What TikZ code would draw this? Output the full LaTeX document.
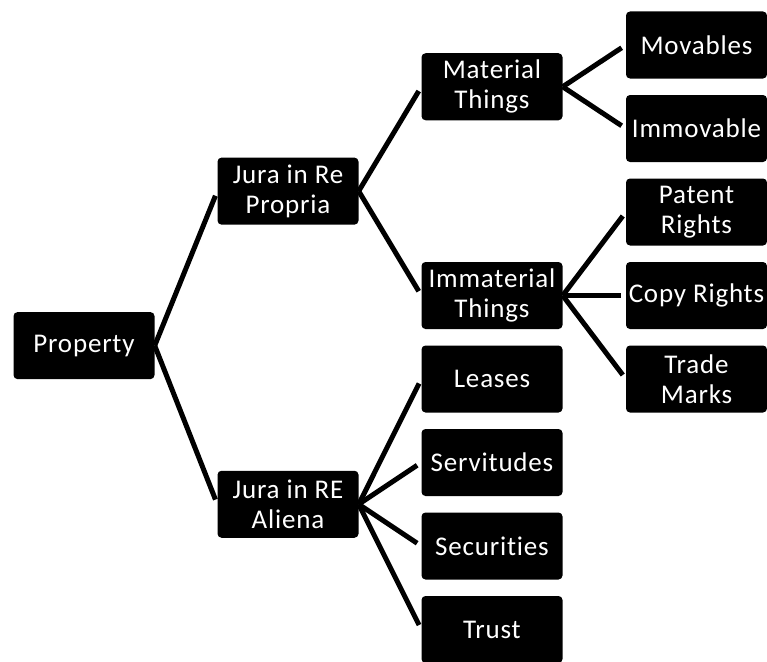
\documentclass[tikz,border=0pt]{standalone}
\usepackage{fontspec}
\newfontfamily\boxfont[LetterSpace=3,Ligatures=NoCommon]{Carlito}

\tikzset{
  item/.style={fill=black, text=white, rounded corners=4pt,
    minimum width=141pt, minimum height=67pt, inner sep=2pt, align=center,
    font={\boxfont\fontsize{27pt}{30pt}\selectfont}},
  link/.style={line width=5pt, shorten >=5pt}
}

\begin{document}
\begin{tikzpicture}

  \newcommand\X{204pt}
  \newcommand\Y{83.5pt}

  \useasboundingbox (0,0) rectangle (767pt,-661pt);

  % root and first level
  \node[item] (prop)    at (84pt+0*\X, -45pt-3.6*\Y)  {Property};
  \node[item] (propria) at (84pt+1*\X, -45pt-1.75*\Y) {Jura in Re\\Propria};
  \node[item] (aliena)  at (84pt+1*\X, -45pt-5.5*\Y)  {Jura in RE\\Aliena};

  % second level
  \node[item] (mat)    at (84pt+2*\X, -45pt-0.5*\Y) {Material\\Things};
  \node[item] (immat)  at (84pt+2*\X, -45pt-3*\Y)   {Immaterial\\Things};
  \node[item] (leases) at (84pt+2*\X, -45pt-4*\Y)   {Leases};
  \node[item] (serv)   at (84pt+2*\X, -45pt-5*\Y)   {Servitudes};
  \node[item] (secur)  at (84pt+2*\X, -45pt-6*\Y)   {Securities};
  \node[item] (trust)  at (84pt+2*\X, -45pt-7*\Y)   {Trust};

  % third level
  \node[item] (mov)    at (84.5pt+3*\X, -45pt-0*\Y) {Movables};
  \node[item] (immov)  at (84.5pt+3*\X, -45pt-1*\Y) {Immovable};
  \node[item] (patent) at (84.5pt+3*\X, -45pt-2*\Y) {Patent\\Rights};
  \node[item] (copy)   at (84.5pt+3*\X, -45pt-3*\Y) {Copy Rights};
  \node[item] (trade)  at (84.5pt+3*\X, -45pt-4*\Y) {Trade\\Marks};

  \draw[link] (prop.east) -- (propria.west);
  \draw[link] (prop.east) -- (aliena.west);

  \draw[link] (propria.east) -- (mat.west);
  \draw[link] (propria.east) -- (immat.west);

  \foreach \n in {leases, serv, secur, trust}
    \draw[link] (aliena.east) -- (\n.west);

  \draw[link] (mat.east) -- (mov.west);
  \draw[link] (mat.east) -- (immov.west);

  \foreach \n in {patent, copy, trade}
    \draw[link] (immat.east) -- (\n.west);

\end{tikzpicture}
\end{document}
